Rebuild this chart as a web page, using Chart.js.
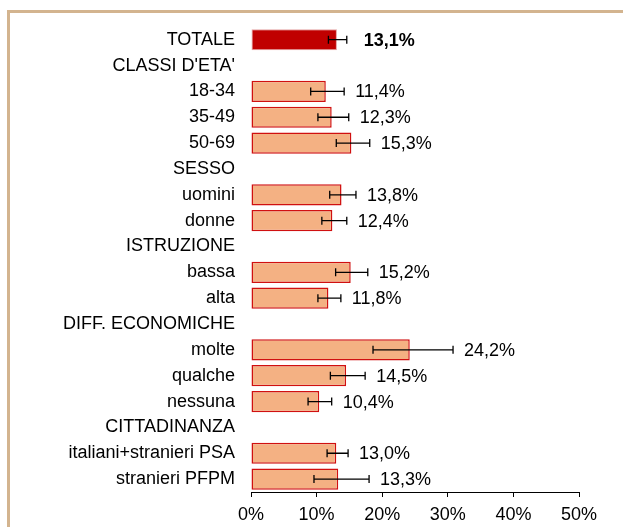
<!DOCTYPE html>
<html lang="it">
<head>
  <meta charset="UTF-8">
  <title>Indicatore per sottogruppi</title>
  <script src="https://cdn.jsdelivr.net/npm/chart.js"></script>
  <style>
    html, body { margin: 0; padding: 0; background: #fff; }
    body { width: 623px; height: 527px; position: relative; overflow: hidden; }
    .frame {
      position: absolute; left: 7px; top: 10px; width: 700px; height: 600px;
      border-top: 3px solid #D3B48F; border-left: 3px solid #D3B48F;
    }
    #chart { position: absolute; left: 0; top: 0; }
  </style>
</head>
<body>
  <div class="frame"></div>
  <canvas id="chart" width="623" height="527"></canvas>

  <script>
    // categories (section headers have no value)
    const categories = [
      'TOTALE', "CLASSI D'ETA'", '18-34', '35-49', '50-69',
      'SESSO', 'uomini', 'donne',
      'ISTRUZIONE', 'bassa', 'alta',
      'DIFF. ECONOMICHE', 'molte', 'qualche', 'nessuna',
      'CITTADINANZA', 'italiani+stranieri PSA', 'stranieri PFPM'
    ];
    const values = [13.1, null, 11.4, 12.3, 15.3, null, 13.8, 12.4, null, 15.2, 11.8, null, 24.2, 14.5, 10.4, null, 13.0, 13.3];
    const ciLow  = [11.8, null, 9.1, 10.2, 13.0, null, 12.0, 10.8, null, 12.9, 10.2, null, 18.6, 12.1, 8.7, null, 11.6, 9.6];
    const ciHigh = [14.6, null, 14.2, 14.9, 18.1, null, 16.0, 14.6, null, 17.8, 13.7, null, 30.8, 17.4, 12.3, null, 14.8, 18.0];
    const xTicks = [0, 10, 20, 30, 40, 50];

    const FONT = '"Liberation Sans", Arial, sans-serif';

    // error bars + value labels
    const errorBars = {
      id: 'errorBars',
      afterDatasetsDraw(chart) {
        const { ctx, scales: { x, y } } = chart;
        ctx.save();
        ctx.strokeStyle = '#000';
        ctx.lineWidth = 1.3;
        values.forEach((v, i) => {
          if (v === null) return;
          const yc = y.getPixelForValue(i);
          const x1 = x.getPixelForValue(ciLow[i]);
          const x2 = x.getPixelForValue(ciHigh[i]);
          ctx.beginPath();
          ctx.moveTo(x1, yc); ctx.lineTo(x2, yc);
          ctx.moveTo(x1, yc - 4); ctx.lineTo(x1, yc + 4);
          ctx.moveTo(x2, yc - 4); ctx.lineTo(x2, yc + 4);
          ctx.stroke();

          ctx.fillStyle = '#000';
          ctx.font = (i === 0 ? 'bold ' : '') + '18px ' + FONT;
          ctx.textAlign = 'left';
          ctx.textBaseline = 'middle';
          ctx.fillText(v.toFixed(1).replace('.', ',') + '%', x2 + (i === 0 ? 17 : 11), yc + 1);
        });
        ctx.restore();
      }
    };

    new Chart(document.getElementById('chart'), {
      type: 'bar',
      data: {
        labels: categories,
        datasets: [{
          data: values,
          backgroundColor: ctx => ctx.dataIndex === 0 ? '#C00000' : '#F4B183',
          borderColor: ctx => ctx.dataIndex === 0 ? '#E4A3A3' : '#D01010',
          borderWidth: ctx => ctx.dataIndex === 0 ? 1 : 1.5,
          borderSkipped: false,
          barPercentage: 0.82,
          categoryPercentage: 1
        }]
      },
      options: {
        indexAxis: 'y',
        responsive: false,
        animation: false,
        layout: { padding: { top: 25, right: 44, left: 0, bottom: 0 } },
        plugins: {
          legend: { display: false },
          tooltip: { enabled: false }
        },
        scales: {
          x: {
            min: 0,
            max: 50,
            afterBuildTicks: scale => { scale.ticks = xTicks.map(v => ({ value: v })); },
            afterFit: scale => { scale.height = 35; },
            grid: { drawOnChartArea: false, tickLength: 5, color: '#000' },
            border: { display: true, color: '#000', width: 1 },
            ticks: {
              padding: 7,
              color: '#000',
              font: { family: FONT, size: 18 },
              callback: v => v + '%'
            }
          },
          y: {
            afterFit: scale => { scale.width = 251; },
            grid: { display: false, drawTicks: false },
            border: { display: false },
            ticks: {
              padding: 16,
              color: '#000',
              autoSkip: false,
              font: { family: FONT, size: 18 }
            }
          }
        }
      },
      plugins: [errorBars]
    });
  </script>
</body>
</html>
